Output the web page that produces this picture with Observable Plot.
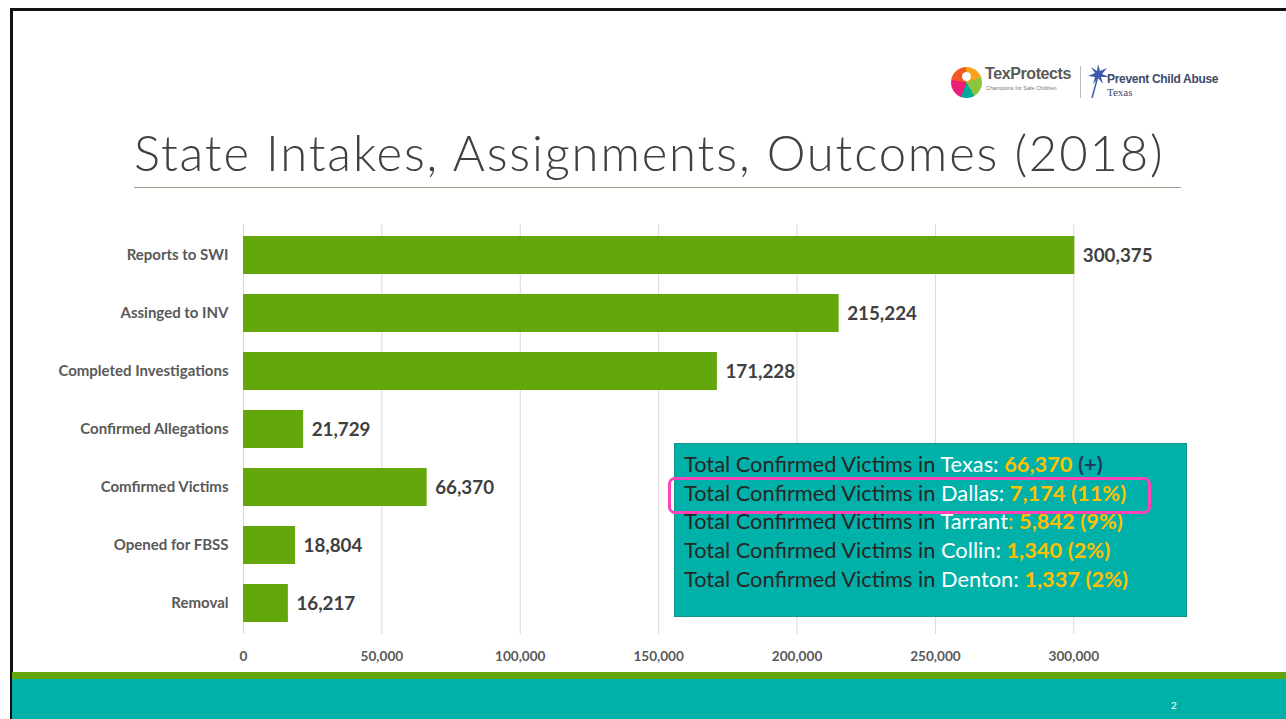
<!DOCTYPE html>
<html>
<head>
<meta charset="utf-8">
<script src="https://cdn.jsdelivr.net/npm/d3@7"></script>
<script src="https://cdn.jsdelivr.net/npm/@observablehq/plot@0.6"></script>
<style>
  html, body { margin: 0; padding: 0; background: #fff; }
  #page { position: relative; width: 1286px; height: 719px; overflow: hidden; background: #fff; font-family: Lato, "Open Sans", sans-serif; }
  .abs { position: absolute; }
  #box { left: 674px; top: 443px; width: 511px; height: 172px; background: #00b1a9; border: 1px solid #14928c; }
  .line { position: absolute; left: 9px; font-size: 21.8px; color: #262626; white-space: nowrap; line-height: 28px; }
  .line .r { color: #ffffff; }
  .line .n { color: #ffc000; font-weight: bold; }
  .line .p { color: #1f3864; font-weight: bold; }
</style>
</head>
<body>
<div id="page">
  <div class="abs" style="left:10px;top:8px;width:1276px;height:3px;background:#111;"></div>
  <div class="abs" style="left:10px;top:8px;width:3px;height:711px;background:#111;"></div>

  <!-- logos -->
  <div class="abs" style="left:951px;top:67px;width:31px;height:31px;border-radius:50%;background:conic-gradient(#f7a21b 0deg 70deg,#8cc63f 70deg 150deg,#00a99d 150deg 200deg,#ec1c79 200deg 280deg,#f15a24 280deg 360deg);"></div>
  <div class="abs" style="left:962px;top:72px;width:9px;height:9px;border-radius:50%;background:#fff;"></div>
  <div class="abs" style="left:985px;top:65px;font-family:Arial,'Liberation Sans',sans-serif;font-weight:bold;font-size:16px;color:#5a5a5a;letter-spacing:-0.4px;">TexProtects</div>
  <div class="abs" style="left:986px;top:85px;font-family:Arial,'Liberation Sans',sans-serif;font-size:5.5px;color:#777;">Champions for Safe Children</div>
  <div class="abs" style="left:1080px;top:66px;width:1px;height:32px;background:#bbb;"></div>
  <svg class="abs" style="left:1088px;top:64px" width="22" height="34" viewBox="0 0 22 34">
    <polygon points="10,0 12,7 19,4 14,10 21,13 13,13 15,20 10,14 5,20 7,13 0,12 7,9 3,3 9,7" fill="#3d5ba9"/>
    <line x1="10" y1="12" x2="4" y2="34" stroke="#3d5ba9" stroke-width="1.5"/>
  </svg>
  <div class="abs" style="left:1107px;top:72px;font-family:Arial,'Liberation Sans',sans-serif;font-weight:bold;font-size:12px;color:#3b4a6b;letter-spacing:-0.3px;">Prevent Child Abuse</div>
  <div class="abs" style="left:1107px;top:86px;font-family:'Liberation Serif','DejaVu Serif',serif;font-size:11px;color:#3b4a6b;">Texas</div>

  <!-- title -->
  <div id="title" class="abs" style="left:134px;top:123px;font-family:Lato,sans-serif;font-weight:300;font-size:49px;letter-spacing:1.85px;color:#404040;white-space:nowrap;">State Intakes, Assignments, Outcomes (2018)</div>
  <div class="abs" style="left:134px;top:187px;width:1047px;height:1px;background:#a29f8c;"></div>

  <div id="chart" class="abs" style="left:0;top:200px;"></div>

  <div id="box" class="abs"></div>
  <div class="abs" style="left:668px;top:477px;width:477px;height:31px;border:3px solid #ff44b8;border-radius:7px;"></div>

  <div class="abs" style="left:12px;top:672px;width:1274px;height:7px;background:#62a60b;"></div>
  <div class="abs" style="left:12px;top:679px;width:1274px;height:40px;background:#00b1a9;"></div>
  <div class="abs" style="left:1171px;top:699px;font-size:10px;color:#fff;">2</div>
</div>
<script>
const categories = ["Reports to SWI", "Assinged to INV", "Completed Investigations", "Confirmed Allegations", "Comfirmed Victims", "Opened for FBSS", "Removal"];
const values = [300375, 215224, 171228, 21729, 66370, 18804, 16217];
const xTicks = [0, 50000, 100000, 150000, 200000, 250000, 300000];

const boxRegions = ["Texas", "Dallas", "Tarrant", "Collin", "Denton"];
const boxCounts = ["66,370", "7,174", "5,842", "1,340", "1,337"];
const boxShares = ["(+)", "(11%)", "(9%)", "(2%)", "(2%)"];

const data = categories.map((c, i) => ({category: c, value: values[i]}));
const fmt = d3.format(",");

const chart = Plot.plot({
  width: 1286,
  height: 470,
  marginLeft: 243,
  marginRight: 102,
  marginTop: 24,
  marginBottom: 36,
  style: {background: "transparent", fontFamily: "Lato, sans-serif", overflow: "visible"},
  x: {domain: [0, 340000], label: null},
  y: {domain: categories, paddingInner: 0.35, paddingOuter: 0.175, label: null},
  marks: [
    Plot.gridX(xTicks, {stroke: "#d9d9d9", strokeOpacity: 1}),
    Plot.barX(data, {x: "value", y: "category", fill: "#63a70a"}),
    Plot.text(data, {x: "value", y: "category", text: d => fmt(d.value), textAnchor: "start", dx: 8, fontWeight: "bold", fontSize: 18.8, fill: "#404040"}),
    Plot.axisX(xTicks, {tickSize: 0, tickPadding: 17, tickFormat: fmt, fontWeight: "bold", fontSize: 13.6, fill: "#595959", label: null}),
    Plot.axisY({tickSize: 0, tickPadding: 15, fontWeight: "bold", fontSize: 15, fill: "#595959", label: null})
  ]
});
document.getElementById("chart").appendChild(chart);

const box = document.getElementById("box");
boxRegions.forEach((r, i) => {
  const line = document.createElement("div");
  line.className = "line";
  line.style.top = (6 + i * 28.7) + "px";
  const colonClass = r === "Tarrant" ? "n" : "r";
  const shareClass = boxShares[i] === "(+)" ? "p" : "n";
  line.innerHTML = `Total Confirmed Victims in <span class="r">${r}</span><span class="${colonClass}" style="font-weight:normal">:</span> <span class="n">${boxCounts[i]}</span> <span class="${shareClass}">${boxShares[i]}</span>`;
  box.appendChild(line);
});
</script>
</body>
</html>
